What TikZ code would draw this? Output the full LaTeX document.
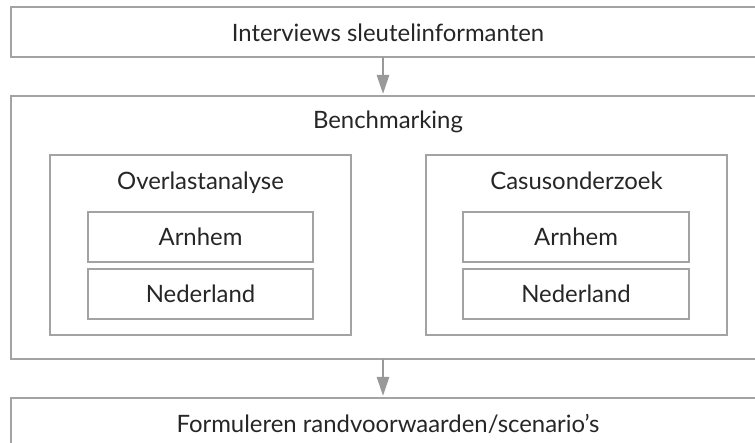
\documentclass[tikz,border=0pt]{standalone}
\usepackage{fontspec}
\setmainfont{Lato}
\usetikzlibrary{arrows.meta,positioning}
\definecolor{boxline}{HTML}{A3A3A3}
\definecolor{arrowgrey}{HTML}{999999}
\definecolor{txt}{HTML}{262626}
\tikzset{
  box/.style={draw=boxline, line width=1.4bp, rectangle, inner sep=0pt, outer sep=0pt},
  lbl/.style={font=\fontsize{24}{28}\selectfont, text=txt, inner sep=0pt, anchor=base},
  arr/.style={draw=arrowgrey, line width=2.6bp, -{Triangle[width=12bp,length=19bp]}},
}
\begin{document}
\begin{tikzpicture}[x=1bp,y=-1bp]
\useasboundingbox (0,0) rectangle (755,443);
\clip (0,0) rectangle (755,443);
% top box
\node[box, minimum width=754bp, minimum height=50bp] (top) at (388,32) {};
\node[lbl] (toptxt) at (388,42) {Interviews sleutelinformanten};
% benchmarking
\node[box, minimum width=754bp, minimum height=263bp] (bench) at (388,227.5) {};
\node[lbl] (benchtxt) at (388,129) {Benchmarking};
% overlastanalyse
\node[box, minimum width=301bp, minimum height=180bp] (ov) at (200.5,245) {};
\node[lbl] (ovtxt) at (200.5,190) {Overlastanalyse};
\node[box, minimum width=225bp, minimum height=50bp] (ova) at (200.5,237) {};
\node[lbl] (ovatxt) at (200.5,246) {Arnhem};
\node[box, minimum width=225bp, minimum height=50bp] (ovn) at (200.5,294) {};
\node[lbl] (ovntxt) at (200.5,303) {Nederland};
% casusonderzoek
\node[box, minimum width=301bp, minimum height=180bp] (ca) at (576.5,245) {};
\node[lbl] (catxt) at (576.5,190) {Casusonderzoek};
\node[box, minimum width=226bp, minimum height=50bp] (caa) at (576,237) {};
\node[lbl] (caatxt) at (576,246) {Arnhem};
\node[box, minimum width=226bp, minimum height=50bp] (can) at (576,294) {};
\node[lbl] (cantxt) at (576,303) {Nederland};
% bottom box
\node[box, minimum width=754bp, minimum height=52bp] (bot) at (388,424) {};
\node[lbl] (bottxt) at (388,432) {Formuleren randvoorwaarden/scenario’s};
% arrows
\draw[arr] ([xshift=-5bp]top.south) -- ([xshift=-5bp,yshift=2bp]bench.north);
\draw[arr] ([xshift=-5bp]bench.south) -- ([xshift=-5bp,yshift=2bp]bot.north);
\end{tikzpicture}
\end{document}
